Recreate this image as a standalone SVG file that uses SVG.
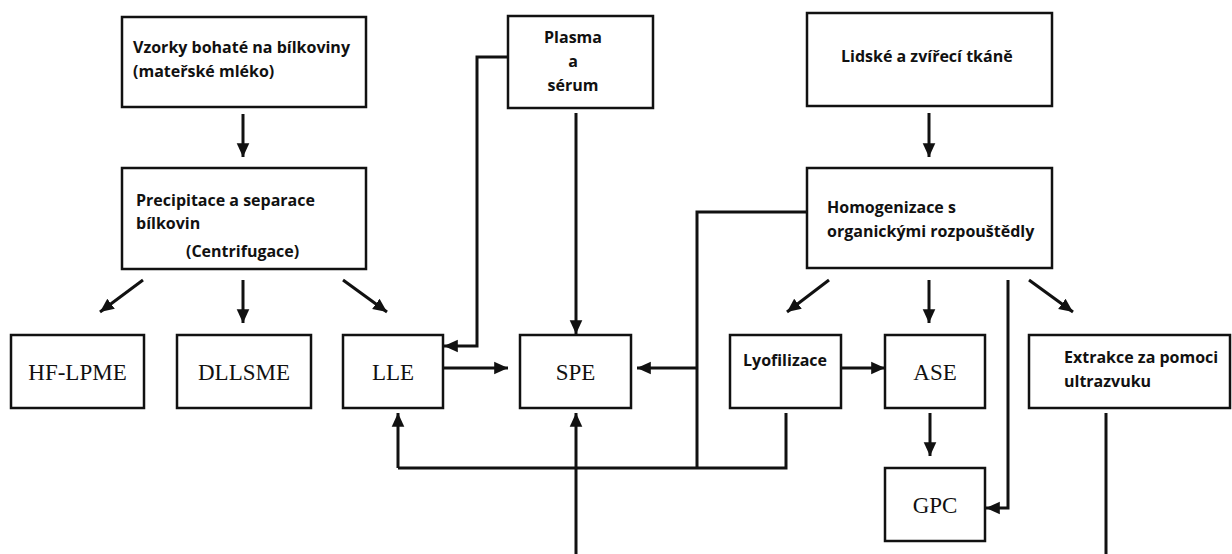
<svg xmlns="http://www.w3.org/2000/svg" width="1232" height="554" viewBox="0 0 1232 554">
<style>
.box{fill:#fff;stroke:#111;stroke-width:2.5}
.t{font-family:"Open Sans","Liberation Sans",sans-serif;font-weight:700;font-size:16px;fill:#111}
.s{font-family:"Liberation Serif","Times New Roman",serif;font-size:23px;fill:#111}
.ln{fill:none;stroke:#111;stroke-width:3}
.ar{fill:none;stroke:#111;stroke-width:3;marker-end:url(#ah)}
</style>
<defs>
<marker id="ah" markerWidth="5" markerHeight="5" refX="4.6" refY="2.5" orient="auto" markerUnits="strokeWidth">
<path d="M0,0.4 L4.6,2.5 L0,4.6 Z" fill="#111"/>
</marker>
</defs>
<rect width="1232" height="554" fill="#fff"/>
<g id="n-vzorky"><rect class="box" x="122" y="17" width="244" height="90"/>
<text class="t" x="133" y="53">Vzorky bohaté na bílkoviny</text>
<text class="t" x="133" y="77">(mateřské mléko)</text></g>
<g id="n-precip"><rect class="box" x="122" y="168" width="244" height="101"/>
<text class="t" x="136" y="206">Precipitace a separace</text>
<text class="t" x="136" y="229">bílkovin</text>
<text class="t" x="186" y="257">(Centrifugace)</text></g>
<g id="n-plasma"><rect class="box" x="508" y="16" width="145" height="92"/>
<text class="t" x="573" y="43" text-anchor="middle">Plasma</text>
<text class="t" x="573" y="67" text-anchor="middle">a</text>
<text class="t" x="573" y="91" text-anchor="middle">sérum</text></g>
<g id="n-lidske"><rect class="box" x="807" y="13" width="245" height="93"/>
<text class="t" x="841" y="62">Lidské a zvířecí tkáně</text></g>
<g id="n-homog"><rect class="box" x="807" y="168" width="245" height="100"/>
<text class="t" x="827" y="213">Homogenizace s</text>
<text class="t" x="827" y="237">organickými rozpouštědly</text></g>
<g id="n-hflpme"><rect class="box" x="11" y="335" width="133" height="73"/>
<text class="s" x="77.5" y="380" text-anchor="middle">HF-LPME</text></g>
<g id="n-dllsme"><rect class="box" x="177" y="335" width="134" height="73"/>
<text class="s" x="244" y="380" text-anchor="middle">DLLSME</text></g>
<g id="n-lle"><rect class="box" x="343" y="335" width="100" height="73"/>
<text class="s" x="393" y="380" text-anchor="middle">LLE</text></g>
<g id="n-spe"><rect class="box" x="520" y="335" width="111" height="73"/>
<text class="s" x="575.5" y="380" text-anchor="middle">SPE</text></g>
<g id="n-lyo"><rect class="box" x="730" y="335" width="111" height="73"/>
<text class="t" x="743" y="366">Lyofilizace</text></g>
<g id="n-ase"><rect class="box" x="885" y="335" width="100" height="73"/>
<text class="s" x="935" y="380" text-anchor="middle">ASE</text></g>
<g id="n-extrakce"><rect class="box" x="1029" y="335" width="201" height="73"/>
<text class="t" x="1064" y="363">Extrakce za pomoci</text>
<text class="t" x="1064" y="387">ultrazvuku</text></g>
<g id="n-gpc"><rect class="box" x="885" y="468" width="100" height="73"/>
<text class="s" x="935" y="513" text-anchor="middle">GPC</text></g>
<g id="connectors">
<path class="ar" d="M243,114 V157"/>
<path class="ar" d="M143,280 L100,312"/>
<path class="ar" d="M243,280 V323"/>
<path class="ar" d="M343,280 L387,312"/>
<path class="ar" d="M508,57 H477 V346 H444"/>
<path class="ar" d="M576,113 V334"/>
<path class="ar" d="M443,368 H508"/>
<path class="ar" d="M929,113 V157"/>
<path class="ln" d="M807,212 H697 V468"/>
<path class="ar" d="M697,368 H637"/>
<path class="ln" d="M786,413 V468 H398"/>
<path class="ar" d="M398,468 V413"/>
<path class="ar" d="M576,554 V413"/>
<path class="ar" d="M829,280 L787,312"/>
<path class="ar" d="M929,280 V323"/>
<path class="ar" d="M1008,280 V508 H986"/>
<path class="ar" d="M1029,280 L1073,312"/>
<path class="ar" d="M841,368 H885"/>
<path class="ar" d="M930,413 V456"/>
<path class="ln" d="M1106,413 V554"/>
</g>
</svg>
